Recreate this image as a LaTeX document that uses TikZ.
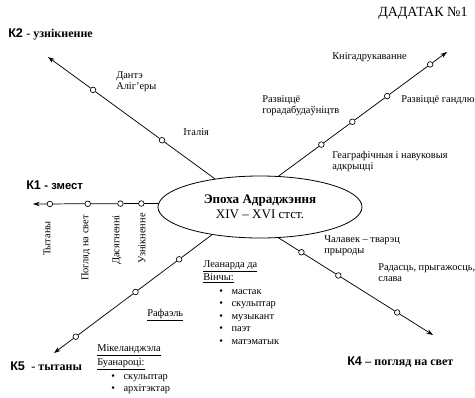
\documentclass[tikz,border=0pt]{standalone}
\usepackage{fontspec}
\setmainfont{Liberation Serif}
\setsansfont{Liberation Sans}
\usetikzlibrary{shapes.geometric,arrows.meta,calc}
\newcommand\knumfont{\sffamily\bfseries\fontsize{9.5}{11}\selectfont}
\begin{document}
\begin{tikzpicture}[x=0.75pt,y=-0.75pt,
  txt/.style={font=\fontsize{7.8}{8.6}\selectfont, inner sep=0pt, align=left, anchor=north west},
  vtxt/.style={font=\fontsize{7.8}{8.6}\selectfont, inner sep=0pt, rotate=90, anchor=east},
  dot/.style={circle, draw, fill=white, inner sep=0pt, minimum size=4.2pt, line width=0.5pt},
  conn/.style={draw, line width=0.55pt},
  arr/.style={conn, -{Stealth[length=5pt,width=3.4pt]}},
  klab/.style={inner sep=0pt, anchor=west},
  hub/.style={ellipse, draw, line width=0.6pt, minimum width=153pt, minimum height=46.5pt, inner sep=0pt, align=center, font=\fontsize{9.8}{11.5}\selectfont},
  bl/.style={font=\fontsize{7.8}{9.4}\selectfont, inner sep=0pt, anchor=north west}
]
\useasboundingbox (0,0) rectangle (475,397);

% title
\node[inner sep=0pt, anchor=west, font=\fontsize{10.5}{12}\selectfont] (title) at (378,13) {ДАДАТАК №1};

% hub
\node[hub] (ep) at (260,207) {\textbf{Эпоха Адраджэння}\\XIV – XVI стст.};

% arrow ends
\coordinate (e2) at (48,57);
\coordinate (e3) at (447,52);
\coordinate (e1) at (33,204);
\coordinate (e5) at (54,353);
\coordinate (e4) at (433,335);

% K2 line
\node[dot] (c2a) at ($(ep.148.3)!0.317!(e2)$) {};
\node[dot] (c2b) at ($(ep.148.3)!0.73!(e2)$) {};
\draw[arr] (ep.148.3) -- (c2a) -- (c2b) -- (e2);

% K3 line
\node[dot] (c3a) at ($(ep.59.5)!0.254!(e3)$) {};
\node[dot] (c3b) at ($(ep.59.5)!0.438!(e3)$) {};
\node[dot] (c3c) at ($(ep.59.5)!0.645!(e3)$) {};
\node[dot] (c3d) at ($(ep.59.5)!0.90!(e3)$) {};
\draw[arr] (ep.59.5) -- (c3a) -- (c3b) -- (c3c) -- (c3d) -- (e3);

% K1 line
\coordinate (s1) at (ep.178.3);
\node[dot] (c1a) at ($(s1)!0.135!(e1)$) {};
\node[dot] (c1b) at ($(s1)!0.302!(e1)$) {};
\node[dot] (c1c) at ($(s1)!0.563!(e1)$) {};
\node[dot] (c1d) at ($(s1)!0.865!(e1)$) {};
\draw[arr] (s1) -- (c1a) -- (c1b) -- (c1c) -- (c1d) -- (e1);

% K5 line
\node[dot] (c5a) at ($(ep.210.3)!0.208!(e5)$) {};
\node[dot] (c5b) at ($(ep.210.3)!0.484!(e5)$) {};
\node[dot] (c5c) at ($(ep.210.3)!0.862!(e5)$) {};
\draw[arr] (ep.210.3) -- (c5a) -- (c5b) -- (c5c) -- (e5);

% K4 line
\node[dot] (c4a) at ($(ep.-59.5)!0.148!(e4)$) {};
\node[dot] (c4b) at ($(ep.-59.5)!0.387!(e4)$) {};
\node[dot] (c4c) at ($(ep.-59.5)!0.768!(e4)$) {};
\draw[arr] (ep.-59.5) -- (c4a) -- (c4b) -- (c4c) -- (e4);

% K labels
\node[klab] (k2) at (8,34) {{\knumfont К2} \textbf{\fontsize{9}{11}\selectfont - узнікненне}};
\node[klab] (k1) at (26,185) {{\knumfont К1} {\sffamily\bfseries\fontsize{8.5}{10}\selectfont - змест}};
\node[klab] (k5) at (10,366) {{\knumfont К5} \textbf{\fontsize{9}{11}\selectfont\ - тытаны}};
\node[klab] (k4) at (347,362) {{\knumfont К4} \textbf{\fontsize{9}{11}\selectfont – погляд на свет}};

% K2 texts
\node[txt] (t2a) at (116,71) {Дантэ\\Аліг’еры};
\node[txt] (t2b) at (183,128) {Італія};

% K3 texts
\node[txt] (t3a) at (332,52) {Кнігадрукаванне};
\node[txt] (t3b) at (262,95) {Развіццё\\горадабудаўніцтв};
\node[txt] (t3c) at (401,95) {Развіццё гандлю};
\node[txt] (t3d) at (332,151) {Геаграфічныя і навуковыя\\адкрыцці};

% K1 texts (vertical)
\node[vtxt] (t1a) at (47,221) {Тытаны};
\node[vtxt] (t1b) at (86,215) {Погляд на свет};
\node[vtxt] (t1c) at (117,215) {Дасягненні};
\node[vtxt] (t1d) at (142,213) {Узнікненне};

% K4 texts
\node[txt] (t4a) at (324,235) {Чалавек – тварэц\\прыроды};
\node[txt] (t4b) at (378,263) {Радасць, прыгажосць,\\слава};

% K5 texts
\node[txt] (leo) at (203,260) {\underline{Леанарда да}\\\underline{Вінчы:}};
\node[bl] (leol) at (219,285) {\begin{tabular}{@{}l@{\hspace{6.5pt}}l@{}}
\textbullet & мастак\\
\textbullet & скульптар\\
\textbullet & музыкант\\
\textbullet & паэт\\
\textbullet & матэматык
\end{tabular}};
\node[txt] (raf) at (147,309) {\underline{Рафаэль}};
\node[txt] (mic) at (97,344) {\underline{Мікеланджэла}\\[1pt]\underline{Буанароці:}};
\node[bl] (micl) at (111,370) {\begin{tabular}{@{}l@{\hspace{6.5pt}}l@{}}
\textbullet & скульптар\\
\textbullet & архітэктар
\end{tabular}};
\end{tikzpicture}
\end{document}
